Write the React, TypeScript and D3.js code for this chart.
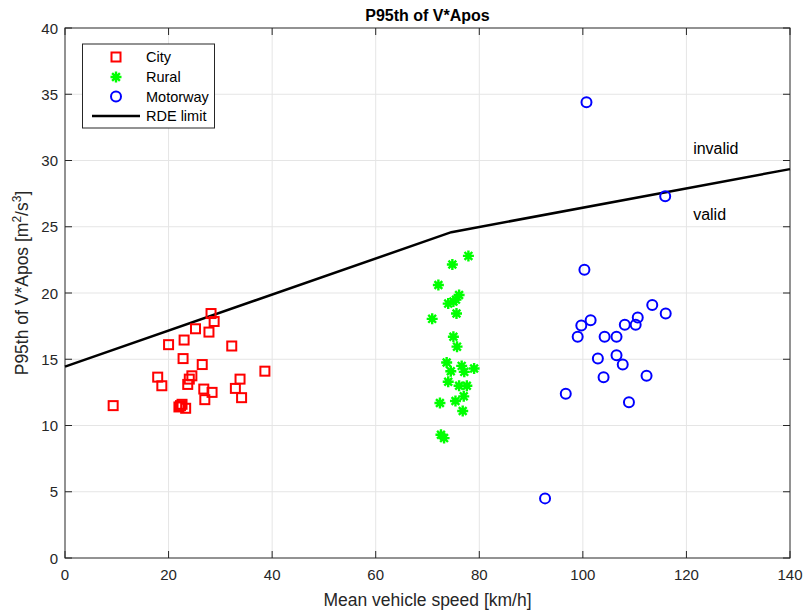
import * as d3 from 'd3';

// City
const cityX = [9.3, 20.0, 23.0, 25.2, 28.2, 28.8, 27.8, 32.2, 22.8, 26.5, 38.6, 17.9, 18.7, 24.5, 24.0, 23.7, 33.8, 32.9, 26.8, 28.4, 34.1, 27.0, 22.0, 22.6, 23.3, 22.3];
const cityY = [11.5, 16.1, 16.45, 17.3, 18.45, 17.85, 17.05, 16.0, 15.05, 14.6, 14.1, 13.65, 13.0, 13.75, 13.5, 13.1, 13.5, 12.8, 12.75, 12.5, 12.1, 11.95, 11.4, 11.6, 11.3, 11.5];

// Rural
const ruralX = [77.9, 74.8, 72.1, 76.1, 75.5, 74.0, 75.0, 75.6, 70.9, 75.0, 75.7, 73.7, 76.6, 79.0, 74.5, 77.1, 74.0, 76.1, 77.6, 77.0, 75.4, 72.4, 76.8, 72.6, 73.2];
const ruralY = [22.8, 22.15, 20.6, 19.85, 19.5, 19.2, 19.35, 18.45, 18.05, 16.7, 15.95, 14.75, 14.5, 14.3, 14.1, 14.05, 13.3, 13.0, 13.0, 12.2, 11.85, 11.7, 11.1, 9.3, 9.05];

// Motorway
const motorX = [100.7, 115.9, 100.3, 113.4, 116.0, 101.5, 99.7, 110.6, 110.2, 108.1, 99.0, 104.2, 106.5, 102.9, 106.5, 107.7, 104.0, 112.3, 96.7, 108.9, 92.7];
const motorY = [34.4, 27.3, 21.75, 19.1, 18.45, 17.95, 17.55, 18.15, 17.6, 17.6, 16.7, 16.7, 16.7, 15.05, 15.3, 14.6, 13.65, 13.75, 12.4, 11.75, 4.5];

// RDE limit
const rdeSpeed = [0, 74.6, 140];
const rdeLimit = [14.44, 24.59, 29.35];

const xTicks = [0, 20, 40, 60, 80, 100, 120, 140];
const yTicks = [0, 5, 10, 15, 20, 25, 30, 35, 40];

const W = 808;
const H = 614;
const left = 65;
const right = 790;
const top = 28;
const bottom = 558;
const axisColor = '#262626';
const font = "'Liberation Sans', Arial, sans-serif";

const x = d3.scaleLinear().domain([0, 140]).range([left, right]);
const y = d3.scaleLinear().domain([0, 40]).range([bottom, top]);

function Square({ cx, cy }: { cx: number; cy: number }) {
  return <rect x={cx - 4.5} y={cy - 4.5} width={9} height={9} fill="none" stroke="#ff0000" strokeWidth={2} />;
}

function Star({ cx, cy }: { cx: number; cy: number }) {
  const r = 5.5;
  const d = r * Math.SQRT1_2;
  const p = `M${cx - r},${cy}L${cx + r},${cy}M${cx},${cy - r}L${cx},${cy + r}M${cx - d},${cy - d}L${cx + d},${cy + d}M${cx - d},${cy + d}L${cx + d},${cy - d}`;
  return <path d={p} stroke="#00ff00" strokeWidth={2.4} fill="none" />;
}

function Circle({ cx, cy }: { cx: number; cy: number }) {
  return <circle cx={cx} cy={cy} r={5} fill="none" stroke="#0000ff" strokeWidth={2} />;
}

export default function App() {
  const line = d3
    .line<number>()
    .x((d) => x(d))
    .y((_, i) => y(rdeLimit[i]));

  return (
    <svg width={W} height={H} style={{ position: 'absolute', left: 0, top: 0, fontFamily: font }}>
      <rect width={W} height={H} fill="#fff" />
      {/* grid */}
      {xTicks.slice(1, -1).map((t) => (
        <line key={'gx' + t} x1={x(t)} x2={x(t)} y1={top} y2={bottom} stroke="#e5e5e5" strokeWidth={1} />
      ))}
      {yTicks.slice(1, -1).map((t) => (
        <line key={'gy' + t} x1={left} x2={right} y1={y(t)} y2={y(t)} stroke="#e5e5e5" strokeWidth={1} />
      ))}
      {/* box */}
      <rect x={left} y={top} width={right - left} height={bottom - top} fill="none" stroke={axisColor} strokeWidth={1} />
      {/* ticks */}
      {xTicks.map((t) => (
        <g key={'tx' + t}>
          <line x1={x(t)} x2={x(t)} y1={bottom} y2={bottom - 7} stroke={axisColor} />
          <line x1={x(t)} x2={x(t)} y1={top} y2={top + 7} stroke={axisColor} />
          <text x={x(t)} y={bottom + 22} textAnchor="middle" fontSize={15} fill={axisColor}>
            {t}
          </text>
        </g>
      ))}
      {yTicks.map((t) => (
        <g key={'ty' + t}>
          <line x1={left} x2={left + 7} y1={y(t)} y2={y(t)} stroke={axisColor} />
          <line x1={right} x2={right - 7} y1={y(t)} y2={y(t)} stroke={axisColor} />
          <text x={left - 7} y={y(t) + 5.5} textAnchor="end" fontSize={15} fill={axisColor}>
            {t}
          </text>
        </g>
      ))}
      {/* RDE limit */}
      <path d={line(rdeSpeed) || ''} fill="none" stroke="#000" strokeWidth={2.5} />
      {/* data */}
      {cityX.map((v, i) => (
        <Square key={'c' + i} cx={x(v)} cy={y(cityY[i])} />
      ))}
      {ruralX.map((v, i) => (
        <Star key={'r' + i} cx={x(v)} cy={y(ruralY[i])} />
      ))}
      {motorX.map((v, i) => (
        <Circle key={'m' + i} cx={x(v)} cy={y(motorY[i])} />
      ))}
      {/* annotations */}
      <text x={x(121.3)} y={y(30.9) + 5.5} fontSize={16} fill="#000">invalid</text>
      <text x={x(121.3)} y={y(25.9) + 5.5} fontSize={16} fill="#000">valid</text>
      {/* title and labels */}
      <text x={(left + right) / 2} y={21} textAnchor="middle" fontSize={16} fontWeight="bold" fill="#000">
        P95th of V*Apos
      </text>
      <text x={(left + right) / 2} y={606} textAnchor="middle" fontSize={17.5} fill={axisColor}>
        Mean vehicle speed [km/h]
      </text>
      <text
        transform={`translate(28,${(top + bottom) / 2 - 10}) rotate(-90)`}
        textAnchor="middle"
        fontSize={17.5}
        fill={axisColor}
      >
        P95th of V*Apos [m<tspan baselineShift="super" fontSize={12}>2</tspan>/s
        <tspan baselineShift="super" fontSize={12}>3</tspan>]
      </text>
      {/* legend */}
      <g>
        <rect x={82.5} y={44} width={132} height={84} fill="#fff" stroke={axisColor} strokeWidth={1} />
        <Square cx={116} cy={57} />
        <Star cx={116} cy={77} />
        <Circle cx={116} cy={96.5} />
        <line x1={92} x2={140} y1={116} y2={116} stroke="#000" strokeWidth={2.5} />
        {['City', 'Rural', 'Motorway', 'RDE limit'].map((s, i) => (
          <text key={s} x={146} y={[57, 77, 96.5, 116][i] + 5} fontSize={14.5} fill="#000">
            {s}
          </text>
        ))}
      </g>
    </svg>
  );
}
